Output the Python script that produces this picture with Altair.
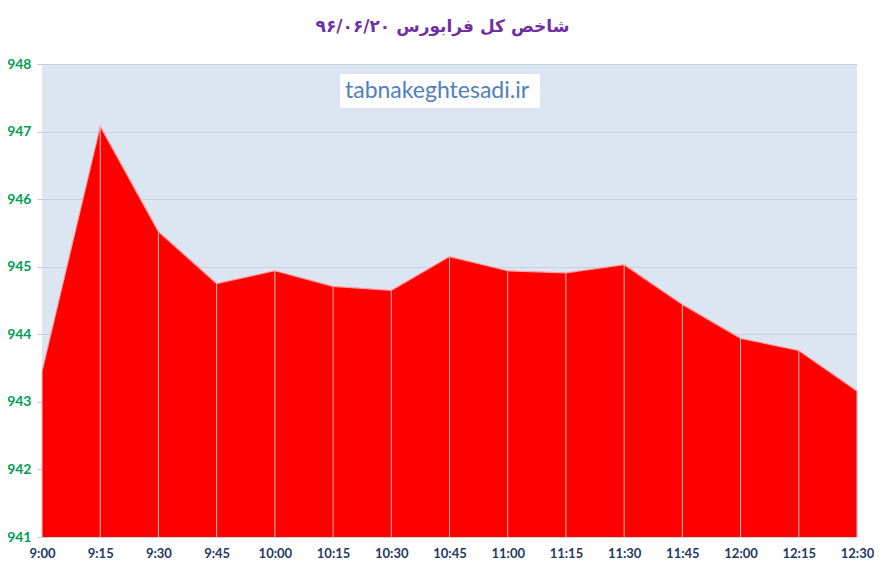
import altair as alt
import pandas as pd

times = ["9:00", "9:15", "9:30", "9:45", "10:00", "10:15", "10:30", "10:45",
         "11:00", "11:15", "11:30", "11:45", "12:00", "12:15", "12:30"]
values = [943.45, 947.08, 945.52, 944.75, 944.94, 944.71, 944.65, 945.15,
          944.94, 944.91, 945.03, 944.44, 943.94, 943.76, 943.16]
y_ticks = [941, 942, 943, 944, 945, 946, 947, 948]
title_text = "شاخص کل فرابورس ۹۶/۰۶/۲۰"
watermark = "tabnakeghtesadi.ir"

df = pd.DataFrame({"time": times, "value": values})
df["base"] = 941

x = alt.X("time:O", sort=times, scale=alt.Scale(type="point", padding=0),
          axis=alt.Axis(title=None, labelAngle=0, ticks=False, domain=False,
                        labelColor="#1F3864", labelFont="Lato", labelFontSize=13,
                        labelFontWeight="bold", labelPadding=10))
y = alt.Y("value:Q", scale=alt.Scale(domain=[941, 948], nice=False, zero=False),
          axis=alt.Axis(title=None, values=y_ticks, format="d", domain=False, tickSize=5,
                        tickColor="#BFC7D2", gridColor="#C9D1DC",
                        labelColor="#00A050", labelFont="Lato", labelFontSize=14,
                        labelFontWeight="bold", labelPadding=6))

area = alt.Chart(df).mark_area(color="#FF0000", opacity=1,
                               line={"color": "#FFA0A0", "strokeWidth": 1.2}).encode(
    x=x, y=y, y2="base:Q")

rules = alt.Chart(df).mark_rule(color="#FFB8B8", strokeWidth=1).encode(
    x=alt.X("time:O", sort=times), y="value:Q", y2="base:Q")

wm_box = alt.Chart(pd.DataFrame({"t": [watermark]})).mark_rect(color="white", opacity=0.95).encode(
    x=alt.value(298), x2=alt.value(498), y=alt.value(10), y2=alt.value(44))
wm_text = alt.Chart(pd.DataFrame({"t": [watermark]})).mark_text(
    font="Lato", fontSize=23, color="#4F81BD", align="center", baseline="middle").encode(
    x=alt.value(395), y=alt.value(27), text="t:N")

chart = alt.layer(area, rules, wm_box, wm_text).properties(
    width=815, height=473,
    background="white",
    title=alt.TitleParams(title_text, font="DejaVu Sans", fontSize=17, fontWeight="bold",
                          color="#7030A0", anchor="middle", offset=21, dx=-7),
    autosize=alt.AutoSizeParams(type="none"),
    padding={"left": 34, "top": 56, "right": 17, "bottom": 23},
).configure_view(fill="#DCE6F2", stroke=None)

chart.save("out.html", embed_options={"renderer": "svg", "actions": False})
